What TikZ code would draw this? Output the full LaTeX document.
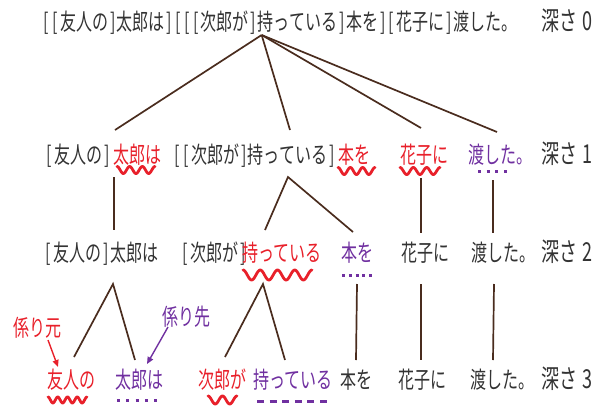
\documentclass[tikz,border=0pt]{standalone}
\usepackage{fontspec}
\setmainfont{Noto Sans CJK JP}
\usetikzlibrary{arrows.meta}
\definecolor{txtgray}{HTML}{333333}
\definecolor{kred}{HTML}{E8202A}
\definecolor{kpur}{HTML}{7030A0}
\definecolor{lbrown}{HTML}{4A2C1E}
\newcommand\jt[1]{\scalebox{1}[1.45]{#1}}
\newcommand\LB{\kern1.5pt[\kern2pt}
\newcommand\RB{\kern2pt]\kern1.5pt}
\newcommand\depthlbl[1]{\jt{\fontsize{18}{18}\selectfont 深さ\kern5pt #1}}
\newcommand\wavy[5]{\draw[wv] plot[domain=0:1,samples=90,smooth] ({#1+(#2-#1)*\x},{#3-#5*cos(360*#4*\x)});}
\tikzset{
  word/.style={inner sep=0pt, anchor=base west, font=\fontsize{16}{16}\selectfont, text=txtgray},
  rw/.style={word, text=kred},
  pw/.style={word, text=kpur},
  link/.style={draw=lbrown, line width=1.7pt},
  wv/.style={draw=kred, line width=2.8pt, line cap=round},
  dt/.style={draw=kpur, line width=3pt},
  rarrow/.style={draw=kred, line width=1.4pt, -{Triangle[length=7pt,width=6pt]}},
  parrow/.style={draw=kpur, line width=1.4pt, -{Triangle[length=7pt,width=6pt]}},
}
\begin{document}
\begin{tikzpicture}[x=1pt,y=-1pt]
\useasboundingbox (0,0) rectangle (600,407);
% row 0
\node[word] (r0a) at (42,30) {\jt{\LB\LB 友人の\RB 太郎は\RB\LB\LB\LB 次郎が\RB}};
\node[word] (r0mot) at (r0a.base east) {\jt{持っている}};
\node[word] (r0b) at (r0mot.base east) {\jt{\RB 本を\RB\LB 花子に\RB 渡した。}};
\node[word] (r0d) at (541,30) {\depthlbl{0}};
% row 1
\node[word] (r1yu) at (45,163) {\jt{\LB 友人の\RB}};
\node[rw] (r1taro) at (113,163) {\jt{太郎は}};
\node[word] (r1mot) at (173,163) {\jt{\LB\LB 次郎が\RB 持っている\RB}};
\node[rw] (r1hon) at (338,163) {\jt{本を}};
\node[rw] (r1hana) at (400,163) {\jt{花子に}};
\node[pw] (r1wata) at (468,163) {\jt{渡した。}};
\node[word] (r1d) at (541,163) {\depthlbl{1}};
% row 2
\node[word] (r2yu) at (44,261) {\jt{\LB 友人の\RB 太郎は}};
\node[word] (r2ji) at (181,261) {\jt{\LB 次郎が\RB}};
\node[rw] (r2mot) at (242,261) {\jt{持っている}};
\node[pw] (r2hon) at (341,261) {\jt{本を}};
\node[word] (r2hana) at (401,261) {\jt{花子に}};
\node[word] (r2wata) at (471,261) {\jt{渡した。}};
\node[word] (r2d) at (541,261) {\depthlbl{2}};
% row 3
\node[rw] (r3yu) at (47,388) {\jt{友人の}};
\node[pw] (r3taro) at (115,388) {\jt{太郎は}};
\node[rw] (r3ji) at (198,388) {\jt{次郎が}};
\node[pw] (r3mot) at (253,388) {\jt{持っている}};
\node[word] (r3hon) at (340,388) {\jt{本を}};
\node[word] (r3hana) at (398,388) {\jt{花子に}};
\node[word] (r3wata) at (470,388) {\jt{渡した。}};
\node[word] (r3d) at (541,388) {\depthlbl{3}};
% labels
\node[rw] (k1) at (13,336) {\jt{係り元}};
\node[pw] (k2) at (162,325) {\jt{係り先}};
% connectors row0 -> row1
\coordinate (apex0) at ([shift={(4,5)}]r0mot.base west);
\draw[link] (apex0) -- ([shift={(2,-33)}]r1taro.base west);
\draw[link] (apex0) -- ([shift={(117,-33)}]r1mot.base west);
\draw[link] (apex0) -- ([shift={(21,-35)}]r1hana.base west);
\draw[link] (apex0) -- ([shift={(29,-31)}]r1wata.base west);
% row1 -> row2
\draw[link] ([shift={(1,14)}]r1taro.base west) -- ([shift={(70,-31)}]r2yu.base west);
\draw[link] ([shift={(23,-31)}]r2mot.base west) -- ([shift={(115,14)}]r1mot.base west) -- ([shift={(12,-29)}]r2hon.base west);
\draw[link] ([shift={(21,15)}]r1hana.base west) -- ([shift={(20,-28)}]r2hana.base west);
\draw[link] ([shift={(25,17)}]r1wata.base west) -- ([shift={(22,-28)}]r2wata.base west);
% row2 -> row3
\draw[link] ([shift={(27,-31)}]r3yu.base west) -- ([shift={(69,23)}]r2yu.base west) -- ([shift={(20,-28)}]r3taro.base west);
\draw[link] ([shift={(27,-31)}]r3ji.base west) -- ([shift={(21,23)}]r2mot.base west) -- ([shift={(32,-28)}]r3mot.base west);
\draw[link] ([shift={(16,23)}]r2hon.base west) -- ([shift={(16,-28)}]r3hon.base west);
\draw[link] ([shift={(20,23)}]r2hana.base west) -- ([shift={(23,-28)}]r3hana.base west);
\draw[link] ([shift={(23,23)}]r2wata.base west) -- ([shift={(23,-28)}]r3wata.base west);
% arrows
\draw[rarrow] ([shift={(35,4)}]k1.base west) -- ([shift={(11,-21)}]r3yu.base west);
\draw[parrow] ([shift={(6,2)}]k2.base west) -- ([shift={(32,-24)}]r3taro.base west);
% underlines
\wavy{117}{155}{170}{3}{3.5}
\wavy{338}{375}{171}{3}{3.5}
\wavy{400}{440}{171}{3}{3.5}
\draw[dt, dash pattern=on 3pt off 5.7pt] (478,171) -- (507,171);
\wavy{243}{312}{275}{4}{5}
\draw[dt, dash pattern=on 3pt off 3.75pt] (342,275) -- (372,275);
\wavy{48}{87}{400}{4}{3}
\draw[dt, dash pattern=on 3pt off 6.25pt] (117,400) -- (157,400);
\wavy{208}{237}{400}{2}{4}
\draw[dt, dash pattern=on 7pt off 5.6pt] (257,401) -- (327,401);
\end{tikzpicture}
\end{document}
